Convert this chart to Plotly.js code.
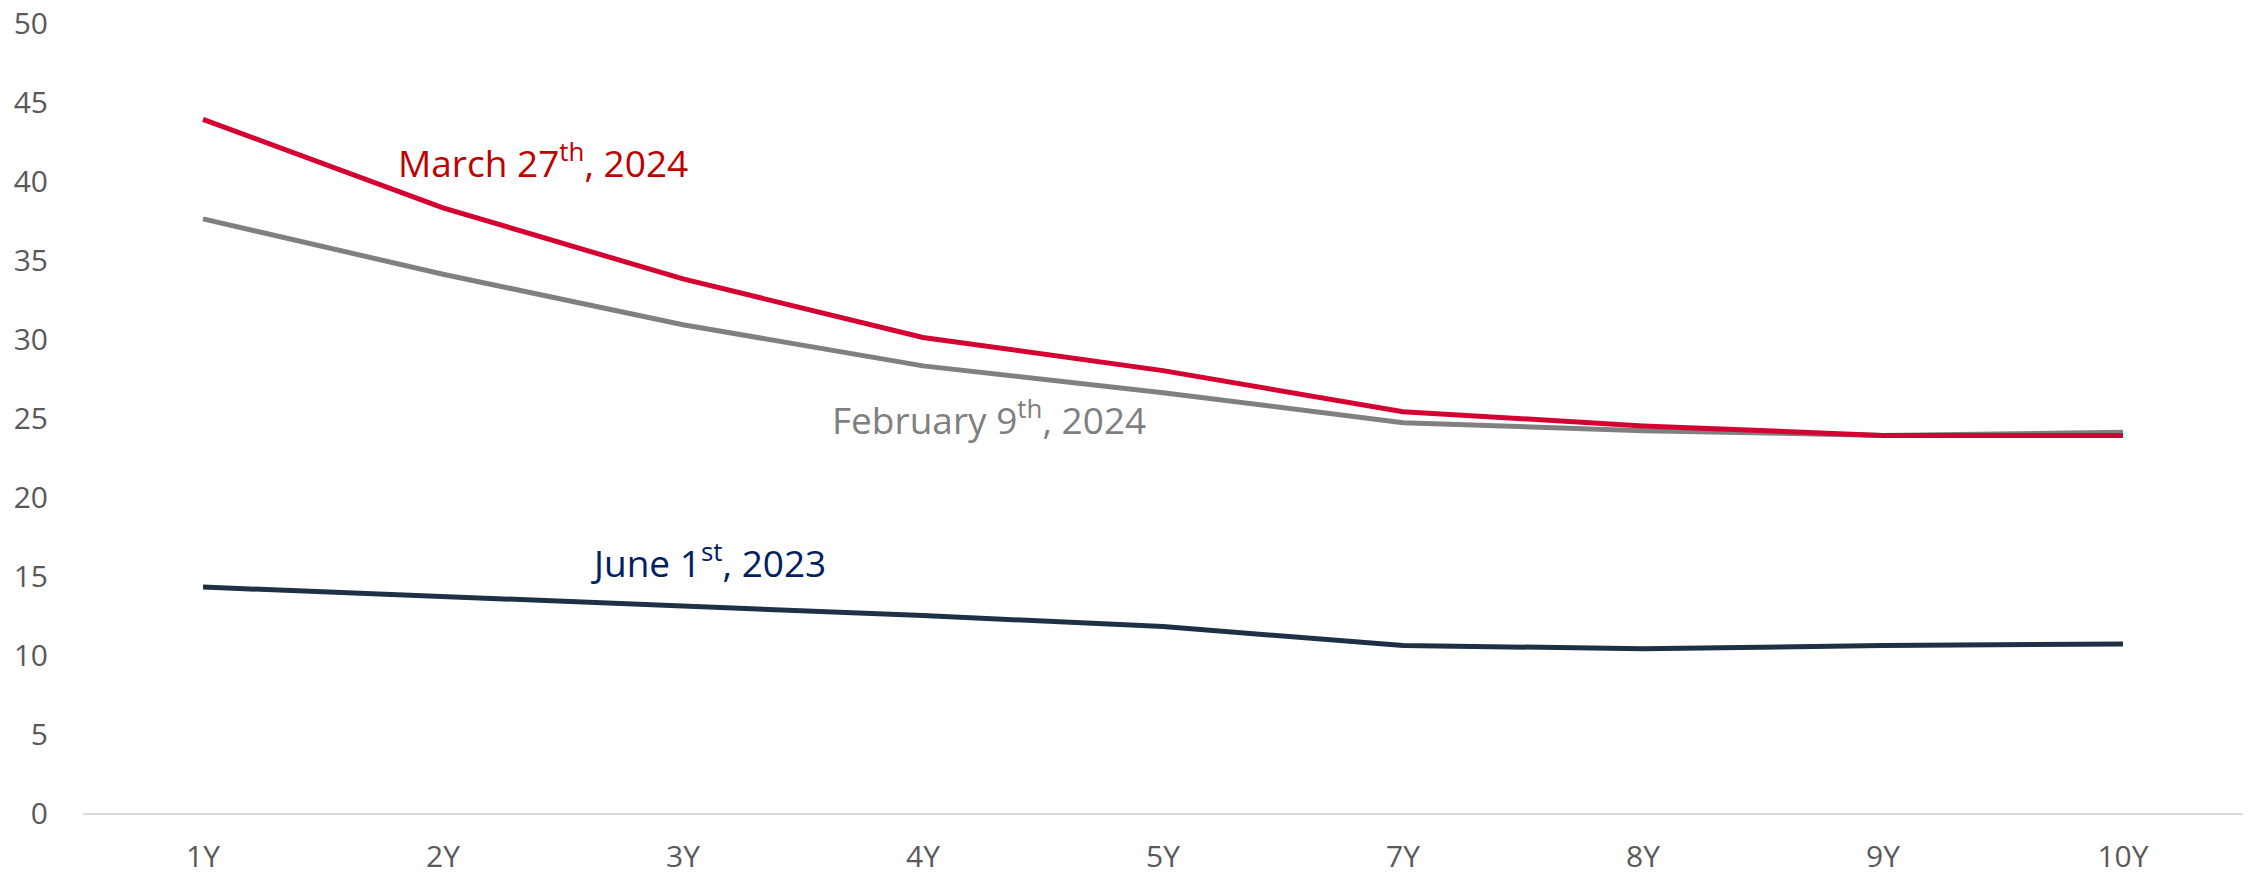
<!DOCTYPE html>
<html>
<head>
<meta charset="utf-8">
<script src="https://cdn.plot.ly/plotly-3.0.1.min.js"></script>
<style>html,body{margin:0;padding:0;background:#fff;}#chart{width:2257px;height:877px;}</style>
</head>
<body>
<div id="chart"></div>
<script>
const tenors = ["1Y","2Y","3Y","4Y","5Y","7Y","8Y","9Y","10Y"];
const march2024 = [43.9, 38.3, 33.8, 30.1, 28.0, 25.4, 24.5, 23.9, 23.9];
const feb2024 = [37.6, 34.1, 30.9, 28.3, 26.6, 24.7, 24.2, 23.9, 24.1];
const june2023 = [14.3, 13.7, 13.1, 12.5, 11.8, 10.6, 10.4, 10.6, 10.7];
const yTicks = [0,5,10,15,20,25,30,35,40,45,50];

const traces = [
  {x: tenors, y: june2023, mode: "lines", line: {color: "#1E3044", width: 5, shape: "linear"}, hoverinfo: "skip"},
  {x: tenors, y: feb2024, mode: "lines", line: {color: "#808080", width: 5}, hoverinfo: "skip"},
  {x: tenors, y: march2024, mode: "lines", line: {color: "#D50032", width: 5}, hoverinfo: "skip"}
];

const font = "Open Sans, Noto Sans, sans-serif";
const layout = {
  width: 2257, height: 877,
  margin: {l: 83, r: 14, t: 23, b: 64},
  paper_bgcolor: "#fff", plot_bgcolor: "#fff",
  showlegend: false,
  font: {family: font, size: 30, color: "#595959"},
  xaxis: {
    type: "category", range: [-0.5, 8.5],
    showgrid: false, zeroline: false, showline: true, linecolor: "#D9D9D9", linewidth: 2,
    ticks: "", ticklabelstandoff: 16,
    tickfont: {family: font, size: 30, color: "#595959"}
  },
  yaxis: {
    range: [0, 50], tickvals: yTicks, ticktext: yTicks.map(String),
    showgrid: false, zeroline: false, showline: false, ticks: "",
    ticklabelstandoff: 34,
    tickfont: {family: font, size: 30, color: "#595959"}
  },
  annotations: [
    {xref: "paper", yref: "paper", x: (543-83)/2160, y: (813-160)/790, xanchor: "center", yanchor: "middle",
     text: "March 27<sup>th</sup>, 2024", showarrow: false, font: {family: font, size: 37, weight: 500, color: "#C00000"}},
    {xref: "paper", yref: "paper", x: (989-83)/2160, y: (813-417)/790, xanchor: "center", yanchor: "middle",
     text: "February 9<sup>th</sup>, 2024", showarrow: false, font: {family: font, size: 37, weight: 500, color: "#7F7F7F"}},
    {xref: "paper", yref: "paper", x: (708-83)/2160, y: (813-560)/790, xanchor: "center", yanchor: "middle",
     text: "June 1<sup>st</sup>, 2023", showarrow: false, font: {family: font, size: 37, weight: 500, color: "#002060"}}
  ]
};

Plotly.newPlot("chart", traces, layout, {staticPlot: true, displayModeBar: false});
</script>
</body>
</html>
